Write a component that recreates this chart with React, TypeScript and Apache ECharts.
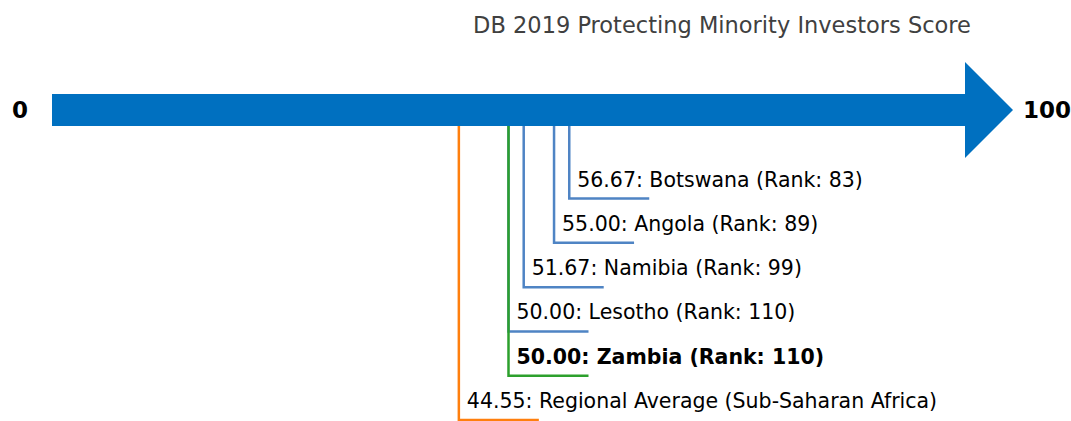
import React, { useEffect, useRef } from "react";
import * as echarts from "echarts";

// ---- Data ----
const TITLE = "DB 2019 Protecting Minority Investors Score";
const AXIS_MIN = 0;
const AXIS_MAX = 100;
const AXIS_LABELS = ["0", "100"];

const economies = ["Botswana", "Angola", "Namibia", "Lesotho", "Zambia", "Regional Average (Sub-Saharan Africa)"];
const scores = [56.67, 55.0, 51.67, 50.0, 50.0, 44.55];
const ranks: (number | null)[] = [83, 89, 99, 110, 110, null];
const kinds = ["peer", "peer", "peer", "peer", "focus", "region"];
// row level below the arrow (arrow sits at level 0)
const levels = [2, 3, 4, 5, 6, 7];

const COLORS: Record<string, string> = {
  peer: "#4f84c4",
  focus: "#2ca02c",
  region: "#ff7f0e",
};
const ARROW_COLOR = "#0070c0";
const FONT = "DejaVu Sans";

export default function App() {
  const ref = useRef<HTMLDivElement>(null);

  useEffect(() => {
    if (!ref.current) return;
    const chart = echarts.init(ref.current, null, { renderer: "svg" });

    const SHAFT_HALF = 16;
    const HEAD_HALF = 48;
    const HEAD_LEN = 48;
    const TAIL = 80;

    const markerData = scores.map((s, i) => [s, levels[i], i]);

    chart.setOption({
      animation: false,
      backgroundColor: "#ffffff",
      grid: { left: 53, right: 107, top: 110, height: 310, containLabel: false },
      xAxis: { type: "value", min: AXIS_MIN, max: AXIS_MAX, show: false },
      yAxis: { type: "value", min: 0, max: 7, inverse: true, show: false },
      graphic: [
        {
          type: "text",
          x: 722,
          y: 25,
          style: {
            text: TITLE,
            fontFamily: FONT,
            fontSize: 22.5,
            fill: "#404040",
            align: "center",
            verticalAlign: "middle",
          },
        },
      ],
      series: [
        {
          type: "custom",
          name: "axis",
          data: [[AXIS_MIN, 0, AXIS_MAX]],
          clip: false,
          renderItem: (params: any, api: any) => {
            const p0 = api.coord([api.value(0), api.value(1)]);
            const p1 = api.coord([api.value(2), api.value(1)]);
            const y = p0[1];
            const x0 = p0[0] - 1;
            const x1 = p1[0] + 1;
            return {
              type: "group",
              children: [
                {
                  type: "polygon",
                  shape: {
                    points: [
                      [x0, y - SHAFT_HALF],
                      [x1, y - SHAFT_HALF],
                      [x1, y - HEAD_HALF],
                      [x1 + HEAD_LEN, y],
                      [x1, y + HEAD_HALF],
                      [x1, y + SHAFT_HALF],
                      [x0, y + SHAFT_HALF],
                    ],
                  },
                  style: { fill: ARROW_COLOR },
                },
                {
                  type: "text",
                  x: x0 - 32,
                  y: y,
                  style: {
                    text: AXIS_LABELS[0],
                    fontFamily: FONT,
                    fontWeight: "bold",
                    fontSize: 23,
                    fill: "#000",
                    align: "center",
                    verticalAlign: "middle",
                  },
                },
                {
                  type: "text",
                  x: x1 + HEAD_LEN + 10,
                  y: y,
                  style: {
                    text: AXIS_LABELS[1],
                    fontFamily: FONT,
                    fontWeight: "bold",
                    fontSize: 23,
                    fill: "#000",
                    align: "left",
                    verticalAlign: "middle",
                  },
                },
              ],
            };
          },
        },
        {
          type: "custom",
          name: "markers",
          data: markerData,
          clip: false,
          renderItem: (params: any, api: any) => {
            const i = api.value(2);
            const p = api.coord([api.value(0), api.value(1)]);
            const top = api.coord([api.value(0), 0])[1] + SHAFT_HALF;
            const x = p[0];
            const y = p[1];
            const kind = kinds[i];
            const color = COLORS[kind];
            const rank = ranks[i];
            const label =
              scores[i].toFixed(2) + ": " + economies[i] + (rank != null ? " (Rank: " + rank + ")" : "");
            return {
              type: "group",
              children: [
                {
                  type: "polyline",
                  shape: { points: [[x, top], [x, y], [x + TAIL, y]] },
                  style: { stroke: color, lineWidth: 2.5, fill: "none" },
                },
                {
                  type: "text",
                  x: x + 8,
                  y: y - 19,
                  style: {
                    text: label,
                    fontFamily: FONT,
                    fontSize: 20.5,
                    fontWeight: kind === "focus" ? "bold" : "normal",
                    fill: "#000",
                    align: "left",
                    verticalAlign: "middle",
                  },
                },
              ],
            };
          },
        },
      ],
    });

    return () => chart.dispose();
  }, []);

  return (
    <div
      ref={ref}
      style={{ position: "absolute", left: 0, top: 0, width: 1071, height: 421 }}
    />
  );
}
